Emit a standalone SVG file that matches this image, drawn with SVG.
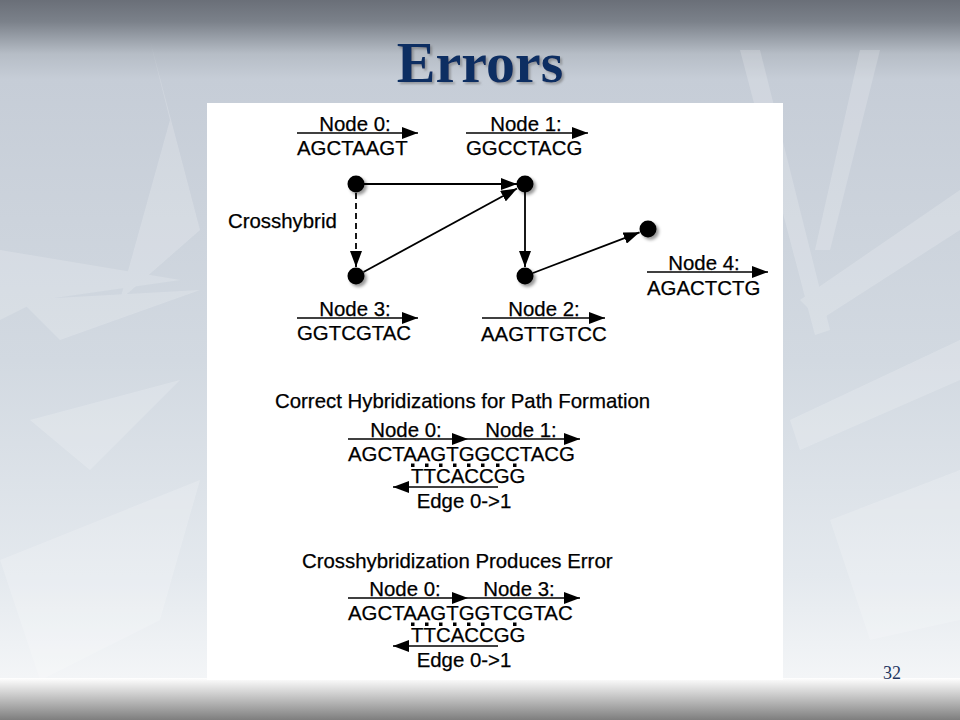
<svg xmlns="http://www.w3.org/2000/svg" width="960" height="720" viewBox="0 0 960 720">
  <defs>
    <linearGradient id="bg" x1="0" y1="0" x2="0" y2="1">
      <stop offset="0" stop-color="#6a6f78"/>
      <stop offset="0.03" stop-color="#7b818a"/>
      <stop offset="0.075" stop-color="#b6bdc6"/>
      <stop offset="0.11" stop-color="#c6cdd7"/>
      <stop offset="0.5" stop-color="#d2d9e1"/>
      <stop offset="0.8" stop-color="#e4e9ee"/>
      <stop offset="0.94" stop-color="#f3f5f7"/>
      <stop offset="1" stop-color="#f5f6f8"/>
    </linearGradient>
    <linearGradient id="foot" x1="0" y1="0" x2="0" y2="1">
      <stop offset="0" stop-color="#ffffff"/>
      <stop offset="0.35" stop-color="#d2d2d2"/>
      <stop offset="1" stop-color="#7e7e7e"/>
    </linearGradient>
    <filter id="tshadow" x="-10%" y="-10%" width="130%" height="130%">
      <feDropShadow dx="2" dy="2" stdDeviation="1" flood-color="#6b6b6b" flood-opacity="0.55"/>
    </filter>
    <filter id="dshadow" x="-60%" y="-60%" width="240%" height="240%">
      <feDropShadow dx="2.5" dy="2.5" stdDeviation="1.6" flood-color="#000" flood-opacity="0.4"/>
    </filter>
    <marker id="ah" markerUnits="userSpaceOnUse" markerWidth="16" markerHeight="12" refX="16" refY="6" orient="auto">
      <path d="M0,0 L16,6 L0,12 z" fill="#000"/>
    </marker>
    <style>
      .t { font-family: "Liberation Sans", Arial, Helvetica, sans-serif; font-size: 20.4px; fill: #000; stroke: #000; stroke-width: 0.25; }
      .m { text-anchor: middle; }
      .ln { stroke: #000; stroke-width: 1.6; fill: none; marker-end: url(#ah); }
      .edge { stroke: #000; stroke-width: 1.8; fill: none; marker-end: url(#ah); }
      .dash { stroke-dasharray: 6 4; }
      .dot { fill: #000; filter: url(#dshadow); }
      .bp { fill: #000; }
    </style>
  </defs>

  <!-- slide background -->
  <rect x="0" y="0" width="960" height="720" fill="url(#bg)"/>
  <g fill="#ffffff" opacity="0.18">
    <polygon points="0,250 180,280 40,300 0,320"/>
    <polygon points="20,300 200,290 60,340"/>
    <polygon points="150,40 200,230 120,300 170,120"/>
    <polygon points="30,420 180,380 90,470"/>
    <polygon points="0,560 200,480 160,620 40,680"/>
    <polygon points="740,50 760,50 830,330 815,335"/>
    <polygon points="860,50 880,50 830,250 815,250"/>
    <polygon points="800,300 960,190 960,230 820,320"/>
    <polygon points="790,420 960,340 960,380 800,450"/>
    <polygon points="830,520 960,470 960,620 870,640"/>
  </g>
  <rect x="0" y="678" width="960" height="42" fill="url(#foot)"/>

  <!-- title -->
  <text x="480" y="82" text-anchor="middle" font-family="'Liberation Serif', 'Times New Roman', serif" font-weight="bold" font-size="58" fill="#0f2f62" filter="url(#tshadow)">Errors</text>
  <text x="892" y="679" text-anchor="middle" font-family="'Liberation Serif', 'Times New Roman', serif" font-size="18" fill="#1f3560">32</text>

  <!-- white figure panel -->
  <rect x="207" y="103" width="576" height="577" fill="#ffffff"/>

  <!-- connectors -->
  <g id="connectors">
    <line class="edge" x1="364" y1="184" x2="517" y2="184"/>
    <line class="edge" x1="363.5" y1="272" x2="517" y2="188.5"/>
    <line class="edge" x1="525" y1="192" x2="525" y2="267"/>
    <line class="edge" x1="533" y1="273" x2="639.6" y2="232.3"/>
    <line class="edge dash" x1="356" y1="193" x2="356" y2="267"/>
  </g>

  <!-- nodes -->
  <g id="node0">
    <line class="ln" x1="297" y1="133" x2="418" y2="133"/>
    <text class="t m" x="355" y="131">Node 0:</text>
    <text class="t" x="297" y="155">AGCTAAGT</text>
    <circle class="dot" cx="356" cy="184" r="8.5"/>
  </g>
  <g id="node1">
    <line class="ln" x1="466" y1="133" x2="588" y2="133"/>
    <text class="t m" x="526" y="131">Node 1:</text>
    <text class="t" x="466" y="155">GGCCTACG</text>
    <circle class="dot" cx="525" cy="184" r="8.5"/>
  </g>
  <g id="node2">
    <line class="ln" x1="482" y1="318" x2="605" y2="318"/>
    <text class="t m" x="544" y="316">Node 2:</text>
    <text class="t" x="481" y="341">AAGTTGTCC</text>
    <circle class="dot" cx="525" cy="276" r="8.5"/>
  </g>
  <g id="node3">
    <line class="ln" x1="297" y1="318" x2="418" y2="318"/>
    <text class="t m" x="355" y="316">Node 3:</text>
    <text class="t" x="297" y="340">GGTCGTAC</text>
    <circle class="dot" cx="356" cy="276" r="8.5"/>
  </g>
  <g id="node4">
    <line class="ln" x1="647" y1="272" x2="768" y2="272"/>
    <text class="t m" x="704" y="270">Node 4:</text>
    <text class="t" x="647" y="295">AGACTCTG</text>
    <circle class="dot" cx="648" cy="229" r="8.5"/>
  </g>
  <g id="crosshybrid-label">
    <text class="t" x="228" y="228">Crosshybrid</text>
  </g>

  <!-- correct hybridization -->
  <g id="correct-hybridization">
    <text class="t" x="275" y="408">Correct Hybridizations for Path Formation</text>
    <line class="ln" x1="348" y1="439" x2="468" y2="439"/>
    <line class="ln" x1="468" y1="439" x2="580" y2="439"/>
    <text class="t m" x="406" y="437">Node 0:</text>
    <text class="t m" x="521" y="437">Node 1:</text>
    <text class="t" x="348" y="461">AGCTAAGTGGCCTACG</text>
    <g class="bp">
      <rect x="411" y="463.5" width="3.5" height="3.5"/>
      <rect x="425" y="463.5" width="3.5" height="3.5"/>
      <rect x="439" y="463.5" width="3.5" height="3.5"/>
      <rect x="453" y="463.5" width="3.5" height="3.5"/>
      <rect x="467" y="463.5" width="3.5" height="3.5"/>
      <rect x="481" y="463.5" width="3.5" height="3.5"/>
      <rect x="496" y="463.5" width="3.5" height="3.5"/>
      <rect x="513" y="463.5" width="3.5" height="3.5"/>
    </g>
    <text class="t" x="411" y="483">TTCACCGG</text>
    <line class="ln" x1="498" y1="487" x2="393" y2="487"/>
    <text class="t m" x="464" y="508">Edge 0-&gt;1</text>
  </g>

  <!-- crosshybridization error -->
  <g id="crosshybridization-error">
    <text class="t" x="302" y="568">Crosshybridization Produces Error</text>
    <line class="ln" x1="348" y1="598" x2="468" y2="598"/>
    <line class="ln" x1="468" y1="598" x2="580" y2="598"/>
    <text class="t m" x="405" y="596">Node 0:</text>
    <text class="t m" x="519" y="596">Node 3:</text>
    <text class="t" x="348" y="620">AGCTAAGTGGTCGTAC</text>
    <g class="bp">
      <rect x="411" y="622.5" width="3.5" height="3.5"/>
      <rect x="425" y="622.5" width="3.5" height="3.5"/>
      <rect x="439" y="622.5" width="3.5" height="3.5"/>
      <rect x="453" y="622.5" width="3.5" height="3.5"/>
      <rect x="467" y="622.5" width="3.5" height="3.5"/>
      <rect x="481" y="622.5" width="3.5" height="3.5"/>
      <rect x="513" y="622.5" width="3.5" height="3.5"/>
    </g>
    <text class="t" x="411" y="642">TTCACCGG</text>
    <line class="ln" x1="498" y1="646" x2="393" y2="646"/>
    <text class="t m" x="464" y="667">Edge 0-&gt;1</text>
  </g>
</svg>
